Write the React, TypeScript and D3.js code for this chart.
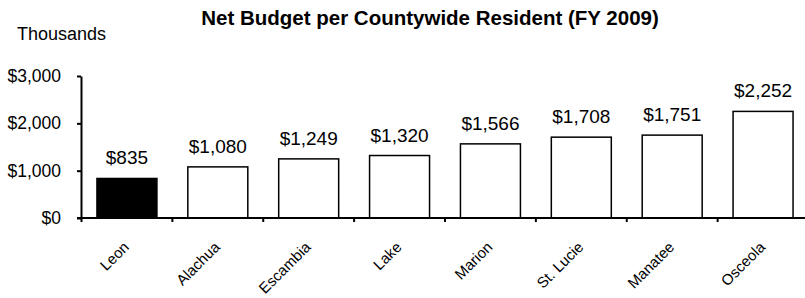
import { useEffect, useRef } from 'react';
import * as d3 from 'd3';

const counties = ['Leon', 'Alachua', 'Escambia', 'Lake', 'Marion', 'St. Lucie', 'Manatee', 'Osceola'];
const netBudget = [835, 1080, 1249, 1320, 1566, 1708, 1751, 2252];
const yTicks = [0, 1000, 2000, 3000];
const highlighted = 'Leon';

const W = 805;
const H = 298;
const FONT = 'Arial, "Liberation Sans", Helvetica, sans-serif';

export default function App() {
  const svgRef = useRef<SVGSVGElement>(null);

  useEffect(() => {
    if (!svgRef.current) return;
    const svg = d3.select(svgRef.current);
    svg.selectAll('*').remove();

    const axisX = 81;
    const x = d3.scaleBand<string>()
      .domain(counties)
      .range([81.5, 808.5])
      .paddingInner(0.34)
      .paddingOuter(0.17);

    const y = d3.scaleLinear()
      .domain([0, 3000])
      .range([218, 76]);

    const fmt = (v: number) => '$' + d3.format(',')(v);

    // title
    svg.append('text')
      .attr('x', 430)
      .attr('y', 25)
      .attr('text-anchor', 'middle')
      .attr('font-family', FONT)
      .attr('font-weight', 'bold')
      .attr('font-size', 20.5)
      .text('Net Budget per Countywide Resident (FY 2009)');

    svg.append('text')
      .attr('x', 17)
      .attr('y', 40)
      .attr('font-family', FONT)
      .attr('font-size', 18)
      .text('Thousands');

    // y axis
    const yAxis = svg.append('g')
      .attr('transform', `translate(${axisX},0)`)
      .call(d3.axisLeft(y).tickValues(yTicks).tickFormat(d => fmt(+d)).tickSizeInner(4).tickSizeOuter(0).tickPadding(16));
    yAxis.select('.domain').attr('stroke', '#000').attr('stroke-width', 2);
    yAxis.selectAll('.tick line').attr('stroke', '#000').attr('stroke-width', 2);
    yAxis.selectAll('.tick text')
      .attr('font-family', FONT)
      .attr('font-size', 17.5)
      .attr('fill', '#000');

    // bars
    svg.append('g')
      .selectAll('rect')
      .data(counties)
      .enter()
      .append('rect')
      .attr('x', d => x(d)!)
      .attr('width', x.bandwidth())
      .attr('y', (d, i) => y(netBudget[i]))
      .attr('height', (d, i) => y(0) - y(netBudget[i]))
      .attr('fill', d => d === highlighted ? '#000' : '#fff')
      .attr('stroke', '#000')
      .attr('stroke-width', 1.5);

    // value labels
    svg.append('g')
      .selectAll('text')
      .data(counties)
      .enter()
      .append('text')
      .attr('x', d => x(d)! + x.bandwidth() / 2)
      .attr('y', (d, i) => y(netBudget[i]) - 14)
      .attr('text-anchor', 'middle')
      .attr('font-family', FONT)
      .attr('font-size', 19)
      .text((d, i) => fmt(netBudget[i]));

    // x axis line and ticks
    const xAxis = svg.append('g');
    xAxis.append('line')
      .attr('x1', axisX - 4)
      .attr('x2', W)
      .attr('y1', y(0))
      .attr('y2', y(0))
      .attr('stroke', '#000')
      .attr('stroke-width', 2);
    xAxis.selectAll('.xt')
      .data(counties)
      .enter()
      .append('line')
      .attr('class', 'xt')
      .attr('x1', d => x(d)! - x.step() * x.paddingInner() / 2)
      .attr('x2', d => x(d)! - x.step() * x.paddingInner() / 2)
      .attr('y1', y(0))
      .attr('y2', y(0) + 4)
      .attr('stroke', '#000')
      .attr('stroke-width', 2);

    // category labels
    xAxis.selectAll('.xl')
      .data(counties)
      .enter()
      .append('text')
      .attr('class', 'xl')
      .attr('transform', d => `translate(${x(d)! + x.bandwidth() / 2 + 3},${y(0) + 30}) rotate(-45)`)
      .attr('text-anchor', 'end')
      .attr('font-family', FONT)
      .attr('font-size', 15)
      .text(d => d);
  }, []);

  return (
    <svg
      ref={svgRef}
      width={W}
      height={H}
      style={{ position: 'absolute', left: 0, top: 0, background: '#fff' }}
    />
  );
}
